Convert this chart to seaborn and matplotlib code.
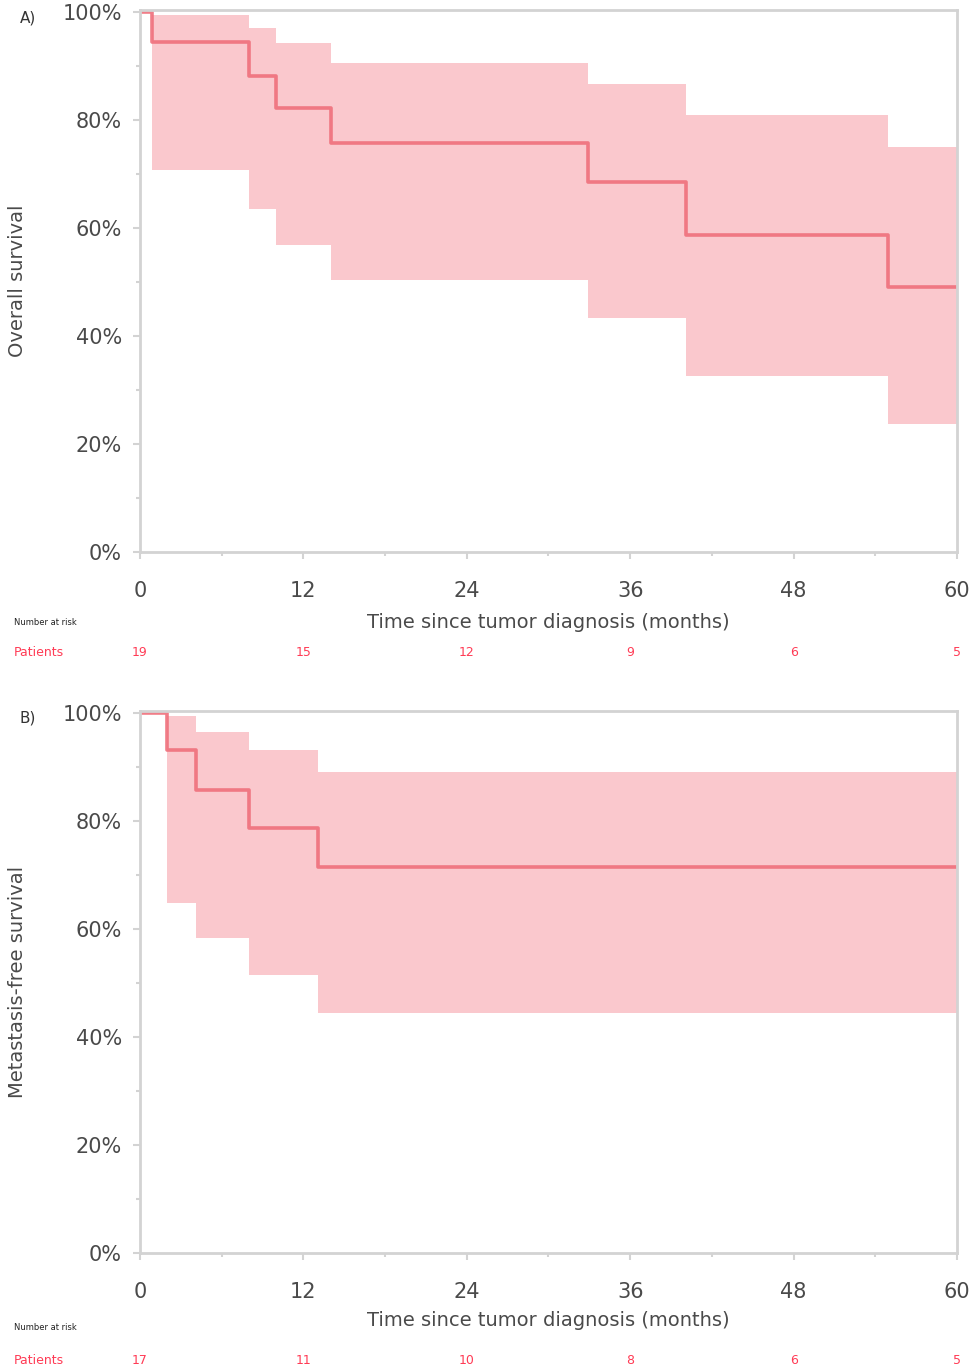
import matplotlib
matplotlib.use("Agg")
import matplotlib.pyplot as plt
import matplotlib.transforms as mtransforms
from matplotlib.ticker import MultipleLocator, FuncFormatter
import seaborn as sns

# DATA
# Panel A: overall survival
time_a = [0, 0.9, 8.0, 10.0, 14.0, 32.9, 40.1, 54.9, 60]
surv_a = [100, 94.4, 88.1, 82.2, 75.7, 68.5, 58.7, 49.1, 49.1]
upper_a = [100, 99.4, 97.0, 94.3, 90.6, 86.7, 80.9, 75.0, 75.0]
lower_a = [100, 70.7, 63.5, 56.9, 50.4, 43.3, 32.6, 23.7, 23.7]
risk_times = [0, 12, 24, 36, 48, 60]
risk_a = [19, 15, 12, 9, 6, 5]

# Panel B: metastasis-free survival
time_b = [0, 2.0, 4.1, 8.0, 13.1, 60]
surv_b = [100, 93.1, 85.7, 78.7, 71.5, 71.5]
upper_b = [100, 99.4, 96.6, 93.1, 89.1, 89.1]
lower_b = [100, 64.8, 58.3, 51.5, 44.4, 44.4]
risk_b = [17, 11, 10, 8, 6, 5]

LINE = "#ef6f7b"
BAND = "#fac8cd"
RISK = "#ff3b55"
GRID = "#d3d3d3"
TEXT = "#4a4a4a"

sns.set_theme(style="white")
plt.rcParams['font.family'] = ['DejaVu Sans']

W, H = 970, 1370
fig = plt.figure(figsize=(W / 100, H / 100), dpi=100)


def box(left, right, top, bottom):
    return [left / W, 1 - bottom / H, (right - left) / W, (bottom - top) / H]


def draw_panel(ax, t, s, up, lo, risk, ylabel, tag, tag_y, off_label, off_nar, off_pat):
    ax.fill_between(t, lo, up, step="post", color=BAND, lw=0, zorder=1)
    sns.lineplot(x=t, y=s, ax=ax, drawstyle="steps-post", color=LINE,
                 lw=2.6, alpha=0.9, zorder=2)
    ax.set_xlim(0, 60)
    ax.set_ylim(0, 100.4)
    ax.xaxis.set_major_locator(MultipleLocator(12))
    ax.xaxis.set_minor_locator(MultipleLocator(6))
    ax.yaxis.set_major_locator(MultipleLocator(20))
    ax.yaxis.set_minor_locator(MultipleLocator(10))
    ax.yaxis.set_major_formatter(FuncFormatter(lambda v, p: f"{v:.0f}%"))
    for sp in ax.spines.values():
        sp.set_color(GRID)
        sp.set_linewidth(2)
    ax.tick_params(which="major", direction="out", length=5, width=1.5,
                   color=GRID, labelcolor=TEXT, labelsize=15, pad=8)
    ax.tick_params(axis="x", which="major", pad=16)
    ax.tick_params(which="minor", direction="out", length=3, width=1.5, color=GRID)
    ax.tick_params(axis="x", bottom=True, which="both")
    ax.tick_params(axis="y", left=True, which="both")
    ax.set_ylabel(ylabel, fontsize=14, color=TEXT)
    ax.yaxis.set_label_coords(-0.138, 0.5)

    bb = ax.get_position()
    bottom_px = (1 - bb.y0) * H
    fig.text(548 / W, 1 - (bottom_px + off_label) / H,
             "Time since tumor diagnosis (months)", fontsize=14, color=TEXT,
             ha="center", va="center")
    fig.text(28 / W, 1 - tag_y / H, tag, fontsize=11, color="#333333",
             ha="center", va="center")
    fig.text(14 / W, 1 - (bottom_px + off_nar) / H, "Number at risk", fontsize=6,
             color="#222222", ha="left", va="center")
    fig.text(14 / W, 1 - (bottom_px + off_pat) / H, "Patients", fontsize=9,
             color=RISK, ha="left", va="center")
    trans = mtransforms.blended_transform_factory(ax.transData, fig.transFigure)
    for x, n in zip(risk_times, risk):
        ax.text(x, 1 - (bottom_px + off_pat) / H, str(n), transform=trans,
                fontsize=9, color=RISK, ha="center", va="center")


ax_a = fig.add_axes(box(140, 957, 10, 552))
draw_panel(ax_a, time_a, surv_a, upper_a, lower_a, risk_a,
           "Overall survival", "A)", 18, 70, 70, 100)

ax_b = fig.add_axes(box(140, 957, 711, 1253))
draw_panel(ax_b, time_b, surv_b, upper_b, lower_b, risk_b,
           "Metastasis-free survival", "B)", 718, 67, 74, 107)

fig.savefig("out.png", dpi=100)
